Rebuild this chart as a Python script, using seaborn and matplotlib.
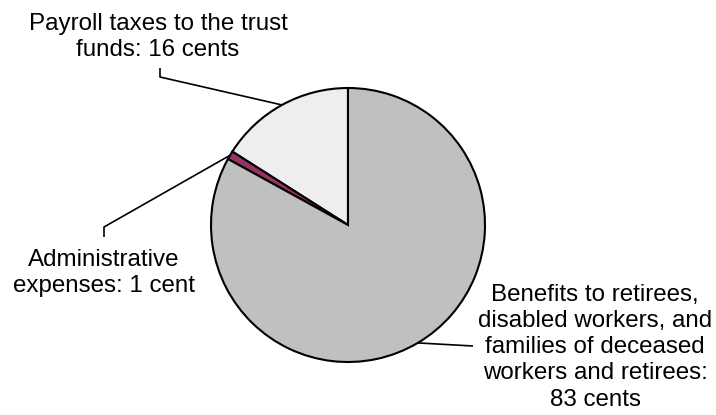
import numpy as np
import matplotlib
matplotlib.use("Agg")
import matplotlib.pyplot as plt
import seaborn as sns

labels = ["Payroll taxes to the trust\nfunds: 16 cents",
          "Administrative\nexpenses: 1 cent",
          "Benefits to retirees,\ndisabled workers, and\nfamilies of deceased\nworkers and retirees:\n83 cents"]
values = [16, 1, 83]
colors = ["#eeeeee", "#993366", "#c0c0c0"]

sns.set_theme(style="white")
plt.rcParams["font.family"] = ["Liberation Sans", "DejaVu Sans"]

W, H = 716, 415
fig = plt.figure(figsize=(W / 100, H / 100), dpi=100)
cx, cy, r = 348, 225, 137
ax = fig.add_axes([(cx - r) / W, (H - cy - r) / H, 2 * r / W, 2 * r / H])

wedges, _ = ax.pie(values, colors=colors, startangle=90, counterclock=True,
                   wedgeprops=dict(edgecolor="black", linewidth=1.5))
ax.set_xlim(-1, 1)
ax.set_ylim(-1, 1)
ax.set_aspect("equal")
ax.axis("off")

def px(x, y):
    return (x - cx) / r, (cy - y) / r

# label centre positions (pixels) and leader hooks
text_pos = [(158, 37), (104, 273), (595, 347)]
hooks = [[(160, 68), (160, 77)], [(104, 237), (104, 227)], [(473, 346)]]

for w, lab, tp, hk in zip(wedges, labels, text_pos, hooks):
    mid = np.deg2rad((w.theta1 + w.theta2) / 2)
    ex, ey = np.cos(mid), np.sin(mid)
    pts = [px(*p) for p in hk] + [(ex, ey)]
    xs, ys = zip(*pts)
    ax.plot(xs, ys, color="black", lw=1.2, clip_on=False, solid_capstyle="butt")
    tx, ty = px(*tp)
    ax.text(tx, ty, lab, ha="center", va="center", fontsize=17.4,
            color="black", linespacing=1.25, clip_on=False)

fig.savefig("out.png", dpi=100, facecolor="white")
